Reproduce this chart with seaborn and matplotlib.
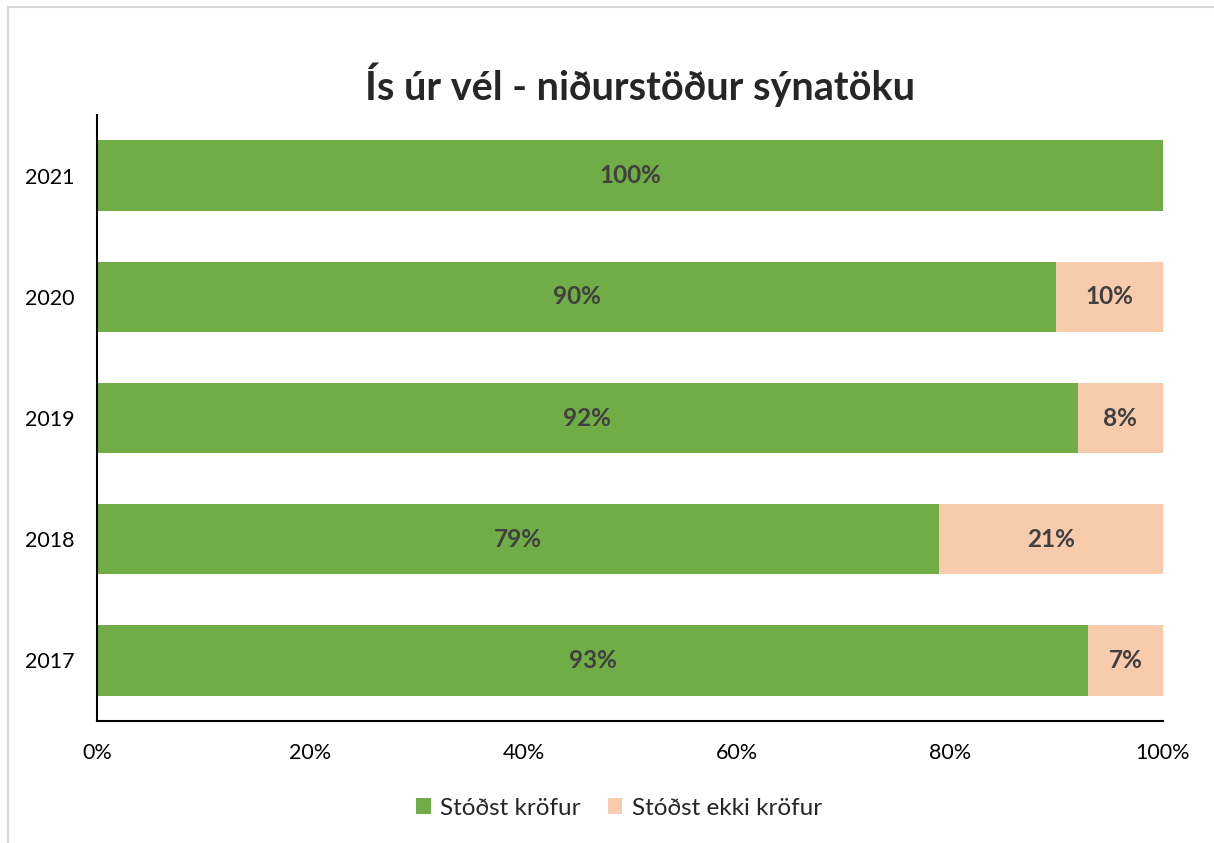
import matplotlib
matplotlib.use("Agg")
import matplotlib.pyplot as plt
import seaborn as sns
import pandas as pd
from matplotlib.patches import Rectangle, Patch

# Data
years = ["2021", "2020", "2019", "2018", "2017"]
passed = [100, 90, 92, 79, 93]
failed = [0, 10, 8, 21, 7]
series_names = ["Stóðst kröfur", "Stóðst ekki kröfur"]
x_ticks = [0, 20, 40, 60, 80, 100]

GREEN = "#70AD47"
PEACH = "#F8CBAD"
LABEL_COLOR = "#404040"

sns.set_style("white")
plt.rcParams["font.family"] = ["Lato", "DejaVu Sans"]

df = pd.DataFrame({"year": years, "passed": passed, "failed": failed})
df["total"] = df["passed"] + df["failed"]

fig = plt.figure(figsize=(12.14, 8.43), dpi=100)
ax = fig.add_axes([0.0799, 0.1447, 0.8781, 0.7189])

# stacked look: draw totals in peach, then the pass share in green on top
sns.barplot(data=df, x="total", y="year", order=years, color=PEACH,
            width=0.58, saturation=1, linewidth=0, ax=ax)
sns.barplot(data=df, x="passed", y="year", order=years, color=GREEN,
            width=0.58, saturation=1, linewidth=0, ax=ax)

for i, (p, f) in enumerate(zip(passed, failed)):
    ax.text(p / 2, i, f"{p}%", ha="center", va="center",
            fontsize=17.5, fontweight="bold", color=LABEL_COLOR)
    if f > 0:
        ax.text(p + f / 2, i, f"{f}%", ha="center", va="center",
                fontsize=17.5, fontweight="bold", color=LABEL_COLOR)

ax.set_xlim(0, 100)
ax.set_ylim(4.5, -0.5)
ax.set_xticks(x_ticks)
ax.set_xticklabels([f"{t}%" for t in x_ticks])
ax.set_xlabel("")
ax.set_ylabel("")
ax.tick_params(axis="both", length=0, labelsize=15.5, colors="black")
ax.tick_params(axis="x", pad=16)
ax.tick_params(axis="y", pad=16)

sns.despine(ax=ax, top=True, right=True)
for side in ["left", "bottom"]:
    ax.spines[side].set_color("black")
    ax.spines[side].set_linewidth(1.5)

fig.text(0.527, 0.899, "Ís úr vél - niðurstöður sýnatöku",
         ha="center", va="center", fontsize=28.5, fontweight="bold")

handles = [Patch(facecolor=GREEN, edgecolor="none"),
           Patch(facecolor=PEACH, edgecolor="none")]
fig.legend(handles, series_names, loc="center", bbox_to_anchor=(0.510, 0.0415),
           ncol=2, frameon=False, fontsize=17.5, handlelength=0.6,
           handleheight=0.6, columnspacing=1.1, handletextpad=0.4)

# light gray chart frame
fig.patches.append(Rectangle((8 / 1214, -0.05), 1.1, 1 - 7 / 843 + 0.05,
                             transform=fig.transFigure, fill=False,
                             edgecolor="#D9D9D9", linewidth=1.5))

fig.savefig("out.png", dpi=100)
